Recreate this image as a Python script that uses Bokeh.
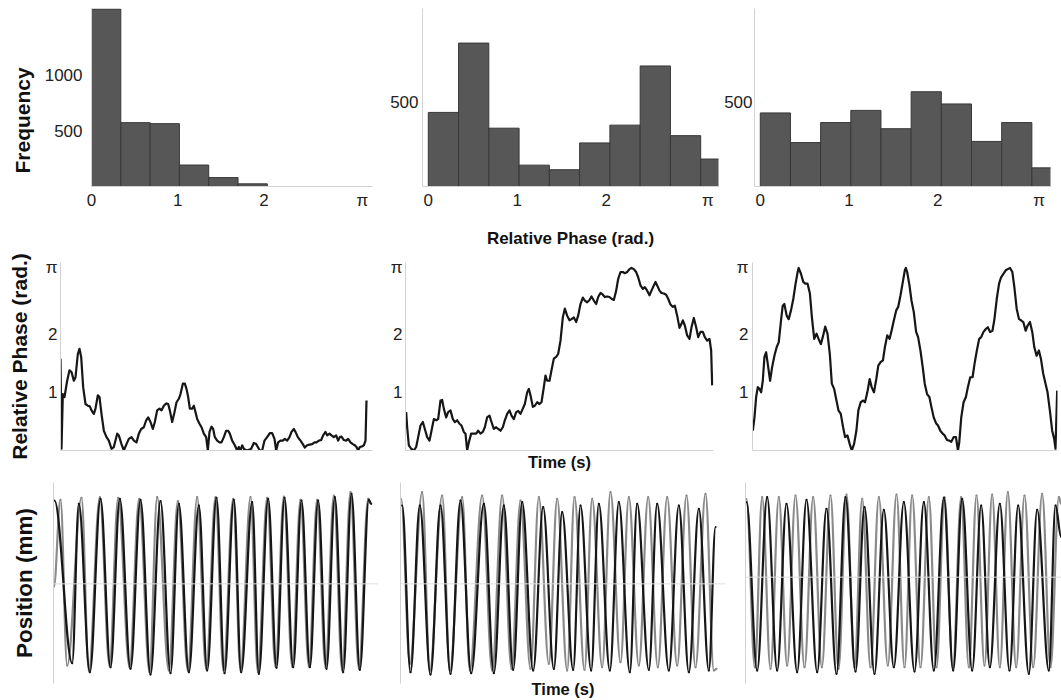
import math
from bokeh.plotting import figure
from bokeh.layouts import column, row
from bokeh.models import Range1d, FixedTicker, Span, Title
from bokeh.embed import file_html
from bokeh.resources import INLINE

PI = math.pi

# ---------------- data ----------------
# Histograms of relative phase (counts per bin, bins of 0.34 rad starting at 0)
bin_width = 0.34
hist_in_phase = [1595, 574, 565, 193, 80, 24, 0, 0, 0, 0]
hist_transition = [437, 846, 344, 126, 99, 257, 362, 711, 300, 162]
hist_drift = [434, 259, 377, 449, 341, 559, 487, 266, 377, 110]
hist_x_ticks = [0, 1, 2, PI]
hist_y_ticks_a = [500, 1000]
hist_y_ticks_bc = [500]
phase_y_ticks = [1, 2, PI]
pi_override = {PI: "π"}

# Relative phase time series (time s, phase rad)
phase_in_phase = [
    (0.0, 1.58), (0.15, 0.03), (0.35, 0.97), (0.6, 0.92), (1.0, 1.20), (1.35, 1.38), (1.65, 1.35),
    (2.0, 1.20), (2.25, 1.26), (2.6, 1.66), (2.85, 1.75), (3.1, 1.61), (3.4, 1.09), (3.75, 0.80),
    (4.1, 0.77), (4.4, 0.76), (4.65, 0.69), (5.0, 0.63), (5.25, 0.72), (5.6, 0.95), (5.85, 0.92),
    (6.15, 0.63), (6.5, 0.34), (6.9, 0.23), (7.25, 0.17), (7.65, 0.03), (8.0, 0.06), (8.5, 0.29),
    (8.75, 0.26), (9.15, 0.11), (9.5, 0.0), (9.9, 0.11), (10.25, 0.20), (10.65, 0.23), (11.0, 0.17),
    (11.4, 0.14), (11.75, 0.29), (12.1, 0.37), (12.5, 0.40), (12.85, 0.52), (13.15, 0.57), (13.5, 0.49),
    (13.85, 0.37), (14.15, 0.49), (14.5, 0.69), (14.85, 0.72), (15.15, 0.69), (15.5, 0.77), (15.85, 0.81),
    (16.15, 0.80), (16.4, 0.69), (16.75, 0.49), (17.1, 0.66), (17.4, 0.83), (17.75, 0.89), (18.0, 0.97),
    (18.35, 1.15), (18.65, 1.15), (18.9, 1.06), (19.15, 0.92), (19.4, 0.72), (19.75, 0.72), (20.0, 0.77),
    (20.25, 0.66), (20.5, 0.54), (20.85, 0.46), (21.15, 0.40), (21.5, 0.29), (21.85, 0.23), (22.1, 0.0),
    (22.35, 0.32), (22.65, 0.41), (22.9, 0.37), (23.15, 0.23), (23.5, 0.17), (23.85, 0.14), (24.15, 0.14),
    (24.5, 0.23), (24.85, 0.34), (25.15, 0.34), (25.4, 0.29), (25.75, 0.17), (26.15, 0.09), (26.5, 0.0),
    (26.75, 0.06), (27.0, 0.0), (27.25, 0.09), (27.5, 0.03), (27.85, 0.0), (28.25, 0.01), (28.6, 0.03),
    (29.0, 0.13), (29.35, 0.11), (29.6, 0.06), (29.9, 0.0), (30.25, 0.0), (30.6, 0.17), (31.0, 0.23),
    (31.4, 0.30), (31.75, 0.30), (32.1, 0.20), (32.35, 0.0), (32.65, 0.14), (33.0, 0.17), (33.35, 0.17),
    (33.65, 0.20), (34.0, 0.17), (34.35, 0.23), (34.65, 0.32), (35.0, 0.37), (35.25, 0.32), (35.6, 0.23),
    (36.0, 0.17), (36.35, 0.11), (36.65, 0.05), (37.0, 0.09), (37.35, 0.10), (37.75, 0.11), (38.1, 0.14),
    (38.4, 0.14), (38.75, 0.17), (39.1, 0.18), (39.4, 0.26), (39.75, 0.32), (40.0, 0.26), (40.35, 0.29),
    (40.65, 0.26), (41.0, 0.23), (41.35, 0.26), (41.65, 0.17), (41.9, 0.23), (42.15, 0.24), (42.5, 0.18),
    (42.85, 0.17), (43.15, 0.20), (43.5, 0.14), (43.85, 0.11), (44.15, 0.09), (44.4, 0.06), (44.65, 0.0),
    (44.9, 0.06), (45.25, 0.07), (45.5, 0.09), (45.75, 0.17), (45.9, 0.86),
]

phase_transition = [
    (0.0, 0.66), (0.15, 0.40), (0.4, 0.09), (0.75, 0.03), (1.15, 0.0), (1.5, 0.06), (1.8, 0.23),
    (2.15, 0.43), (2.5, 0.49), (2.8, 0.37), (3.15, 0.23), (3.5, 0.17), (3.8, 0.34), (4.15, 0.54),
    (4.5, 0.52), (4.8, 0.54), (5.15, 0.86), (5.4, 0.87), (5.65, 0.72), (6.0, 0.57), (6.3, 0.66),
    (6.65, 0.69), (7.0, 0.54), (7.3, 0.49), (7.65, 0.52), (8.0, 0.46), (8.3, 0.43), (8.65, 0.32),
    (8.9, 0.29), (9.15, 0.0), (9.4, 0.14), (9.75, 0.29), (10.15, 0.29), (10.5, 0.29), (10.8, 0.34),
    (11.15, 0.29), (11.5, 0.32), (11.8, 0.40), (12.15, 0.57), (12.5, 0.60), (12.8, 0.49), (13.15, 0.37),
    (13.5, 0.40), (13.8, 0.37), (14.15, 0.34), (14.5, 0.40), (14.8, 0.52), (15.15, 0.63), (15.5, 0.69),
    (15.8, 0.60), (16.15, 0.54), (16.5, 0.66), (16.8, 0.68), (17.15, 0.63), (17.5, 0.72), (17.8, 0.80),
    (18.15, 1.00), (18.4, 1.06), (18.65, 0.95), (19.0, 0.75), (19.3, 0.77), (19.65, 0.83), (20.0, 0.80),
    (20.3, 0.83), (20.65, 1.09), (20.9, 1.29), (21.15, 1.20), (21.5, 1.20), (21.8, 1.38), (22.15, 1.58),
    (22.5, 1.61), (22.8, 1.66), (23.15, 1.89), (23.5, 2.29), (23.8, 2.44), (24.15, 2.32), (24.5, 2.24),
    (24.8, 2.26), (25.15, 2.29), (25.5, 2.21), (25.8, 2.32), (26.15, 2.52), (26.5, 2.63), (26.8, 2.58),
    (27.15, 2.55), (27.5, 2.59), (27.8, 2.65), (28.15, 2.58), (28.5, 2.52), (28.8, 2.64), (29.15, 2.71),
    (29.5, 2.68), (29.8, 2.64), (30.15, 2.65), (30.5, 2.64), (30.8, 2.61), (31.15, 2.59), (31.5, 2.75),
    (31.8, 2.95), (32.15, 3.07), (32.5, 3.07), (32.8, 3.05), (33.15, 3.07), (33.5, 3.12), (33.8, 3.14),
    (34.15, 3.12), (34.5, 3.07), (34.8, 2.98), (35.15, 2.84), (35.5, 2.78), (35.8, 2.81), (36.15, 2.75),
    (36.5, 2.67), (36.8, 2.75), (37.15, 2.84), (37.4, 2.90), (37.65, 2.84), (38.0, 2.75), (38.3, 2.71),
    (38.65, 2.70), (39.0, 2.68), (39.3, 2.61), (39.65, 2.51), (40.0, 2.47), (40.3, 2.49), (40.65, 2.32),
    (41.0, 2.11), (41.3, 2.18), (41.5, 2.24), (41.8, 2.15), (42.15, 1.98), (42.5, 1.92), (42.8, 2.12),
    (43.15, 2.28), (43.5, 2.12), (43.8, 1.95), (44.15, 2.04), (44.5, 2.04), (44.8, 1.95), (45.15, 1.89),
    (45.5, 1.92), (45.75, 1.72), (45.9, 1.12),
]

phase_drift = [
    (0.0, 0.34), (0.25, 0.57), (0.5, 0.92), (0.75, 1.09), (1.0, 1.06), (1.25, 1.00), (1.5, 1.20),
    (1.75, 1.61), (2.0, 1.69), (2.25, 1.49), (2.6, 1.20), (2.9, 1.43), (3.25, 1.63), (3.6, 1.78),
    (3.9, 1.86), (4.25, 2.24), (4.5, 2.49), (4.75, 2.52), (5.1, 2.32), (5.4, 2.26), (5.75, 2.41),
    (6.1, 2.61), (6.4, 2.84), (6.75, 3.07), (6.9, 3.14), (7.25, 3.04), (7.6, 2.90), (7.9, 2.87),
    (8.25, 2.87), (8.6, 2.70), (8.9, 2.29), (9.25, 1.92), (9.6, 2.01), (9.9, 1.92), (10.25, 1.83),
    (10.6, 1.98), (10.9, 2.13), (11.25, 2.01), (11.6, 1.66), (11.9, 1.15), (12.25, 1.06), (12.6, 0.86),
    (12.9, 0.69), (13.25, 0.63), (13.6, 0.40), (13.9, 0.23), (14.25, 0.26), (14.6, 0.11), (14.9, 0.0),
    (15.25, 0.11), (15.6, 0.34), (15.9, 0.69), (16.25, 0.83), (16.6, 0.86), (16.9, 0.83), (17.25, 1.00),
    (17.6, 1.23), (17.9, 1.09), (18.25, 1.00), (18.6, 1.23), (18.9, 1.46), (19.25, 1.52), (19.6, 1.55),
    (19.9, 1.78), (20.25, 1.98), (20.6, 1.92), (20.9, 2.06), (21.25, 2.24), (21.6, 2.41), (21.9, 2.47),
    (22.25, 2.67), (22.6, 2.90), (22.9, 3.10), (23.05, 3.14), (23.25, 3.07), (23.6, 2.84), (23.9, 2.58),
    (24.25, 2.38), (24.6, 2.04), (24.9, 1.95), (25.25, 1.72), (25.6, 1.43), (25.9, 1.15), (26.25, 0.97),
    (26.6, 0.92), (26.9, 0.75), (27.25, 0.57), (27.6, 0.47), (27.9, 0.43), (28.25, 0.34), (28.6, 0.29),
    (28.9, 0.26), (29.25, 0.18), (29.6, 0.17), (29.9, 0.15), (30.25, 0.23), (30.6, 0.23), (30.9, 0.0),
    (31.1, 0.14), (31.4, 0.57), (31.75, 0.83), (32.1, 0.92), (32.4, 1.09), (32.75, 1.26), (33.1, 1.26),
    (33.4, 1.49), (33.75, 1.72), (34.1, 1.92), (34.4, 1.95), (34.75, 2.04), (35.1, 2.09), (35.4, 2.12),
    (35.75, 2.04), (36.1, 2.06), (36.4, 2.26), (36.75, 2.61), (37.1, 2.87), (37.4, 2.98), (37.75, 3.04),
    (38.1, 3.10), (38.4, 3.12), (38.75, 3.14), (39.1, 3.07), (39.4, 2.81), (39.75, 2.44), (40.1, 2.26),
    (40.4, 2.24), (40.75, 2.21), (41.1, 2.06), (41.4, 2.15), (41.75, 2.21), (42.1, 2.04), (42.4, 1.78),
    (42.75, 1.63), (43.1, 1.72), (43.4, 1.58), (43.75, 1.32), (44.1, 1.15), (44.4, 1.00), (44.75, 0.69),
    (45.1, 0.34), (45.4, 0.20), (45.6, 0.03), (45.85, 1.03),
]

# Finger position traces: turning points (time s, position mm)
pos_in_phase_black = [
    (0.1, 25.0), (2.75, -23.8), (3.75, 24.0), (5.4, -26.5), (7.0, 25.5), (8.5, -25.0), (9.9, 25.5),
    (11.5, -25.5), (13.0, 25.2), (14.5, -27.2), (16.0, 24.8), (17.5, -26.8), (18.75, 24.0), (20.25, -26.5),
    (21.75, 23.5), (23.0, -26.0), (24.4, 25.8), (25.6, -26.8), (27.0, 25.2), (28.1, -26.5), (29.75, 24.5),
    (30.75, -27.0), (32.15, 25.5), (33.4, -25.2), (34.6, 25.8), (35.9, -25.0), (37.15, 25.0), (38.4, -25.0),
    (39.65, 25.0), (40.9, -25.5), (42.15, 26.0), (43.4, -26.5), (44.65, 27.0), (45.9, -25.8), (47.25, 25.2),
    (47.6, 24.0),
]
pos_in_phase_grey = [
    (0.0, -1.0), (1.0, 25.2), (2.0, -24.5), (4.15, 25.8), (5.25, -26.0), (6.9, 26.0), (8.35, -24.5),
    (9.65, 25.8), (11.35, -25.0), (12.8, 25.5), (14.35, -26.5), (15.5, 26.0), (17.25, -26.0), (18.6, 24.8),
    (20.1, -26.0), (21.5, 26.0), (22.85, -25.5), (24.25, 26.0), (25.45, -26.0), (26.9, 25.5), (28.0, -26.0),
    (29.5, 26.0), (30.6, -26.5), (32.0, 25.8), (33.25, -24.8), (34.5, 26.2), (35.75, -24.8), (37.0, 25.2),
    (38.25, -24.8), (39.5, 25.2), (40.75, -25.0), (42.0, 26.5), (43.25, -26.0), (44.5, 27.5), (45.75, -25.5),
    (47.15, 25.5), (47.6, 24.0),
]
pos_transition_black = [
    (0.25, 23.5), (1.5, -26.5), (2.9, 23.5), (4.5, -27.2), (6.0, 23.5), (7.5, -27.0), (9.0, 25.0),
    (10.6, -26.8), (12.5, 24.0), (14.0, -26.8), (15.5, 23.5), (16.9, -25.8), (18.25, 24.5), (19.9, -26.0),
    (21.4, 23.0), (23.0, -25.5), (24.25, 21.5), (25.9, -25.8), (27.0, 23.5), (28.6, -26.0), (29.75, 24.0),
    (31.4, -26.0), (32.75, 24.5), (34.4, -26.5), (35.5, 24.0), (37.25, -25.8), (38.5, 24.0), (40.25, -26.0),
    (41.75, 23.5), (43.25, -26.5), (44.75, 22.5), (46.25, -26.0), (47.25, 17.0),
]
pos_transition_grey = [
    (0.1, 25.5), (1.4, -24.0), (3.25, 27.5), (4.4, -26.0), (6.25, 26.5), (7.4, -26.0), (9.25, 26.0),
    (10.4, -26.0), (12.25, 26.5), (13.75, -26.0), (15.25, 26.5), (16.65, -25.5), (18.0, 25.0), (19.5, -25.5),
    (20.75, 26.0), (22.25, -24.0), (23.5, 25.5), (25.0, -26.0), (26.1, 26.0), (27.6, -25.8), (28.75, 25.5),
    (30.25, -25.0), (31.5, 27.5), (33.0, -23.5), (34.25, 26.0), (35.75, -24.5), (37.15, 26.0), (38.6, -25.0),
    (40.0, 26.0), (41.5, -24.5), (42.9, 26.5), (44.25, -25.0), (45.75, 27.0), (47.0, -26.0), (47.4, -25.5),
]
pos_drift_black = [
    (0.15, 22.5), (1.75, -28.0), (3.25, 24.0), (4.75, -28.0), (6.15, 22.0), (7.75, -28.5), (9.15, 23.2),
    (10.75, -28.5), (12.15, 20.5), (13.65, -29.0), (15.0, 24.0), (16.5, -28.3), (17.85, 21.0), (19.35, -29.0),
    (20.75, 20.2), (22.25, -27.0), (23.75, 22.5), (25.35, -28.3), (26.75, 22.5), (28.25, -28.0), (29.75, 23.8),
    (31.15, -28.0), (32.5, 23.5), (34.0, -28.0), (35.35, 21.5), (36.65, -27.0), (38.15, 22.0), (39.6, -28.0),
    (40.9, 21.5), (42.5, -29.0), (43.75, 20.2), (45.5, -28.0), (46.5, 21.5), (47.35, 12.0),
]
pos_drift_grey = [
    (0.15, 23.5), (1.4, -27.0), (2.5, 24.0), (3.75, -27.5), (5.0, 24.0), (6.25, -26.5), (7.5, 24.5),
    (8.85, -27.0), (10.15, 24.0), (11.45, -27.0), (12.75, 24.5), (13.95, -27.5), (15.15, 24.8), (16.35, -27.0),
    (17.5, 23.5), (18.75, -27.0), (20.0, 24.0), (21.35, -26.5), (22.65, 24.8), (23.85, -27.0), (25.0, 24.5),
    (26.25, -27.0), (27.5, 24.0), (28.65, -27.0), (29.85, 24.0), (31.1, -27.5), (32.35, 24.0), (33.5, -27.0),
    (34.65, 24.5), (35.85, -26.5), (37.0, 24.8), (38.15, -27.0), (39.35, 25.5), (40.6, -27.0), (41.85, 24.5),
    (43.15, -27.0), (44.5, 25.0), (45.75, -27.0), (47.0, 24.0), (47.35, 22.0),
]

# ---------------- styling ----------------
AXIS = "#d2d2d2"
FONT = "Liberation Sans"
BAR_FILL = "#575757"
BAR_LINE = "#383838"
LINE_BLACK = "#161616"
LINE_GREY = "#8a8a8a"


def make_fig(w, h, left, right, top, bottom, xr, yr):
    p = figure(width=w, height=h, x_range=Range1d(*xr), y_range=Range1d(*yr),
               min_border_left=left, min_border_right=right,
               min_border_top=top, min_border_bottom=bottom,
               output_backend="svg", toolbar_location=None)
    p.grid.visible = False
    p.outline_line_color = None
    p.background_fill_color = "white"
    p.border_fill_color = "white"
    for ax in p.axis:
        ax.axis_line_color = AXIS
        ax.axis_line_width = 1
        ax.major_tick_line_color = None
        ax.minor_tick_line_color = None
        ax.major_tick_in = 0
        ax.major_tick_out = 0
        ax.minor_tick_in = 0
        ax.minor_tick_out = 0
        ax.major_label_text_font = FONT
        ax.major_label_text_font_size = "17px"
        ax.major_label_text_color = "#222222"
        ax.axis_label_text_font = FONT
        ax.axis_label_text_font_style = "bold"
        ax.axis_label_text_color = "#111111"
        ax.ticker = FixedTicker(ticks=[])
        ax.major_label_standoff = 0
    return p


def histogram(p, counts):
    left = [i * bin_width for i, c in enumerate(counts) if c > 0]
    right = [(i + 1) * bin_width for i, c in enumerate(counts) if c > 0]
    top = [c for c in counts if c > 0]
    p.quad(left=left, right=right, bottom=0, top=top,
           fill_color=BAR_FILL, line_color=BAR_LINE, line_width=1)


def phase_line(p, pairs):
    p.line([a for a, _ in pairs], [b for _, b in pairs], line_color=LINE_BLACK,
           line_width=2.2, line_join="round")


def oscillation(p, pairs, color, k=0.3642):
    t = [a for a, _ in pairs]
    y = [b for _, b in pairs]
    x0, x1, y0, y1 = t[:-1], t[1:], y[:-1], y[1:]
    cx0 = [a + k * (b - a) for a, b in zip(x0, x1)]
    cx1 = [b - k * (b - a) for a, b in zip(x0, x1)]
    p.bezier(x0=x0, y0=y0, x1=x1, y1=y1, cx0=cx0, cy0=y0, cx1=cx1, cy1=y1,
             line_color=color, line_width=2.2, line_cap="round")


# ---------------- row 1: histograms ----------------
A = make_fig(381, 250, 91, 9, 8, 64, (0, 3.26), (0, 1600))
B = make_fig(340, 250, 41, 3, 8, 64, (-0.065, 3.26), (0, 1050))
C = make_fig(340, 250, 31, 11, 8, 64, (-0.065, 3.27), (0, 1050))
for p, counts, yt, ys in ((A, hist_in_phase, hist_y_ticks_a, 9),
                          (B, hist_transition, hist_y_ticks_bc, 4),
                          (C, hist_drift, hist_y_ticks_bc, 2)):
    histogram(p, counts)
    p.xaxis.ticker = FixedTicker(ticks=hist_x_ticks)
    p.xaxis.major_label_overrides = pi_override
    p.xaxis.major_label_standoff = 4
    p.yaxis.ticker = FixedTicker(ticks=yt)
    p.yaxis.major_label_standoff = ys
B.xaxis.axis_label = "Relative Phase (rad.)"
B.xaxis.axis_label_text_font_size = "17px"
B.xaxis.axis_label_standoff = 16
A.add_layout(Title(text="Frequency", align="left", offset=13, standoff=15,
                   text_font=FONT, text_font_style="bold", text_font_size="21px",
                   text_color="#111111"), "left")

# ---------------- row 2: relative phase ----------------
D = make_fig(381, 228, 60, 9, 12, 28, (0, 46.8), (0, 3.234))
E = make_fig(340, 228, 24, 8, 12, 28, (-0.1, 46.1), (0, 3.234))
F = make_fig(340, 228, 31, 4, 12, 28, (-0.05, 45.9), (0, 3.234))
for p, pairs, ys in ((D, phase_in_phase, 3), (E, phase_transition, 3), (F, phase_drift, 4)):
    phase_line(p, pairs)
    p.yaxis.ticker = FixedTicker(ticks=phase_y_ticks)
    p.yaxis.major_label_overrides = pi_override
    p.yaxis.major_label_standoff = ys
D.yaxis.axis_label = "Relative Phase (rad.)"
D.yaxis.axis_label_text_font_size = "21px"
D.yaxis.axis_label_standoff = 12
E.xaxis.axis_label = "Time (s)"
E.xaxis.axis_label_text_font_size = "16.5px"
E.xaxis.axis_label_standoff = 2

# ---------------- row 3: positions ----------------
G = make_fig(385, 222, 53, 7, 4, 17, (-0.05, 48.7), (-29.9, 30.4))
H = make_fig(343, 222, 15, 3, 4, 17, (0, 48.75), (-29.9, 30.4))
I = make_fig(333, 222, 17, 0, 4, 17, (0, 47.4), (-31.9, 28.4))
for p, grey, black in ((G, pos_in_phase_grey, pos_in_phase_black),
                       (H, pos_transition_grey, pos_transition_black),
                       (I, pos_drift_grey, pos_drift_black)):
    p.add_layout(Span(location=0, dimension="width", line_color="#dedede", line_width=1))
    oscillation(p, grey, LINE_GREY)
    oscillation(p, black, LINE_BLACK)
G.xaxis.visible = False
I.xaxis.visible = False
H.xaxis.axis_line_color = None
H.xaxis.axis_label = "Time (s)"
H.xaxis.axis_label_text_font_size = "16.5px"
H.xaxis.axis_label_standoff = -4
G.yaxis.axis_label = "Position (mm)"
G.yaxis.axis_label_text_font_size = "22.5px"
G.yaxis.axis_label_standoff = 17

layout = column(row(A, B, C), row(D, E, F), row(G, H, I))
open("out.html", "w").write(file_html(layout, INLINE))
